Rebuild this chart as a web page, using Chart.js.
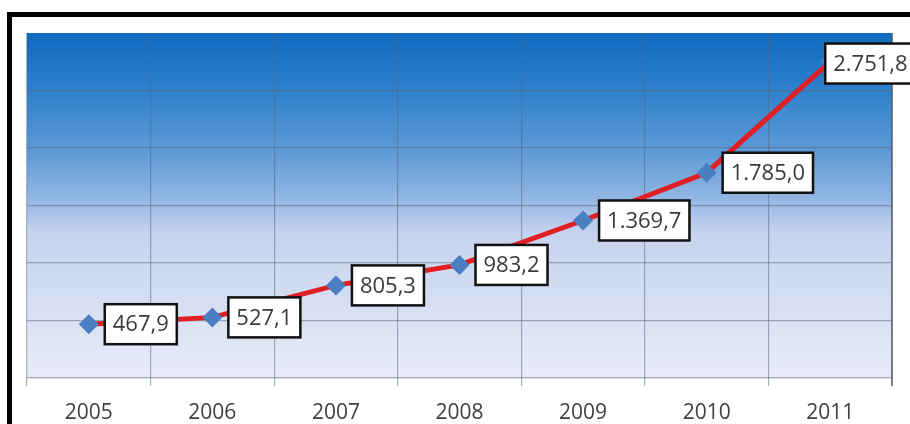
<!DOCTYPE html>
<html>
<head>
<meta charset="utf-8">
<script src="https://cdn.jsdelivr.net/npm/chart.js@4.4.0/dist/chart.umd.min.js"></script>
<style>
  html, body { margin: 0; padding: 0; background: #fff; overflow: hidden; }
  #wrap { position: relative; width: 910px; height: 424px; }
  #marco {
    position: absolute; left: 7px; top: 12px; width: 1000px; height: 500px;
    border-left: 5px solid #000; border-top: 5px solid #000; pointer-events: none;
  }
</style>
</head>
<body>
<div id="wrap">
  <canvas id="grafico" width="910" height="424"></canvas>
  <div id="marco"></div>
</div>
<script>
// datos
const anios = ['2005', '2006', '2007', '2008', '2009', '2010', '2011']
const valores = [467.9, 527.1, 805.3, 983.2, 1369.7, 1785.0, 2751.8]
const etiquetas = ['467,9', '527,1', '805,3', '983,2', '1.369,7', '1.785,0', '2.751,8']
const ejeMin = 0
const ejeMax = 3000
const ejePaso = 500

// fondo degradado del area del grafico
const fondoPlugin = {
  id: 'fondo',
  beforeDraw(chart) {
    const { ctx, chartArea: a } = chart
    const g = ctx.createLinearGradient(0, a.top, 0, a.bottom)
    g.addColorStop(0, '#0f6abf')
    g.addColorStop(0.15, '#2a7ecb')
    g.addColorStop(0.35, '#5f9bd7')
    g.addColorStop(0.48, '#93b7e3')
    g.addColorStop(0.58, '#c6d3ee')
    g.addColorStop(1, '#e7ecf7')
    ctx.save()
    ctx.fillStyle = g
    ctx.fillRect(a.left, a.top, a.right - a.left, a.bottom - a.top)
    ctx.restore()
  },
  afterDatasetsDraw(chart) {
    const { ctx, chartArea: a } = chart
    ctx.save()
    ctx.strokeStyle = '#5a5f6a'
    ctx.lineWidth = 1.5
    ctx.beginPath()
    ctx.moveTo(a.right, a.top)
    ctx.lineTo(a.right, a.bottom + 8)
    ctx.stroke()
    ctx.restore()
  }
}

// cajas con los valores
const cajasPlugin = {
  id: 'cajas',
  afterDatasetsDraw(chart) {
    const { ctx } = chart
    const puntos = chart.getDatasetMeta(0).data
    ctx.save()
    ctx.font = '22px "Open Sans"'
    ctx.textBaseline = 'middle'
    puntos.forEach((p, i) => {
      const texto = etiquetas[i]
      const w = ctx.measureText(texto).width + 16
      const h = 40
      let x = p.x + 16
      let y = p.y
      if (i === puntos.length - 1) { x = p.x - 5; y = p.y + 2 }
      ctx.fillStyle = '#ffffff'
      ctx.fillRect(x, y - h / 2, w, h)
      ctx.strokeStyle = '#111'
      ctx.lineWidth = 2.5
      ctx.strokeRect(x, y - h / 2, w, h)
      ctx.fillStyle = '#3a3a3a'
      ctx.fillText(texto, x + 8, y + 1)
    })
    ctx.restore()
  }
}

const colorRejilla = 'rgba(90,100,120,0.5)'

const ctx = document.getElementById('grafico').getContext('2d')
const grafico = new Chart(ctx, {
  type: 'line',
  data: {
    labels: anios,
    datasets: [{
      data: valores,
      borderColor: '#e01e24',
      borderWidth: 5,
      pointStyle: 'rectRot',
      pointRadius: 10,
      pointBackgroundColor: '#4a7fc1',
      pointBorderColor: '#4a7fc1',
      pointBorderWidth: 0,
      tension: 0
    }]
  },
  options: {
    responsive: false,
    animation: false,
    events: [],
    layout: { padding: { left: 27, right: 18, top: 33, bottom: 0 } },
    plugins: {
      legend: { display: false },
      tooltip: { enabled: false }
    },
    scales: {
      x: {
        offset: true,
        afterFit: s => { s.height = 46 },
        grid: {
          offset: true,
          color: colorRejilla,
          lineWidth: 1.2,
          tickLength: 8,
          drawTicks: true
        },
        border: { display: false },
        ticks: {
          color: '#404040',
          font: { family: 'Open Sans', size: 21, lineHeight: 1.0 },
          padding: 17
        }
      },
      y: {
        min: ejeMin,
        max: ejeMax,
        ticks: { stepSize: ejePaso, display: false },
        grid: {
          color: c => (c.tick && c.tick.value === ejeMax ? 'rgba(0,0,0,0)' : colorRejilla),
          lineWidth: 1.2,
          drawTicks: false
        },
        border: { display: false }
      }
    }
  },
  plugins: [fondoPlugin, cajasPlugin]
})
</script>
</body>
</html>
